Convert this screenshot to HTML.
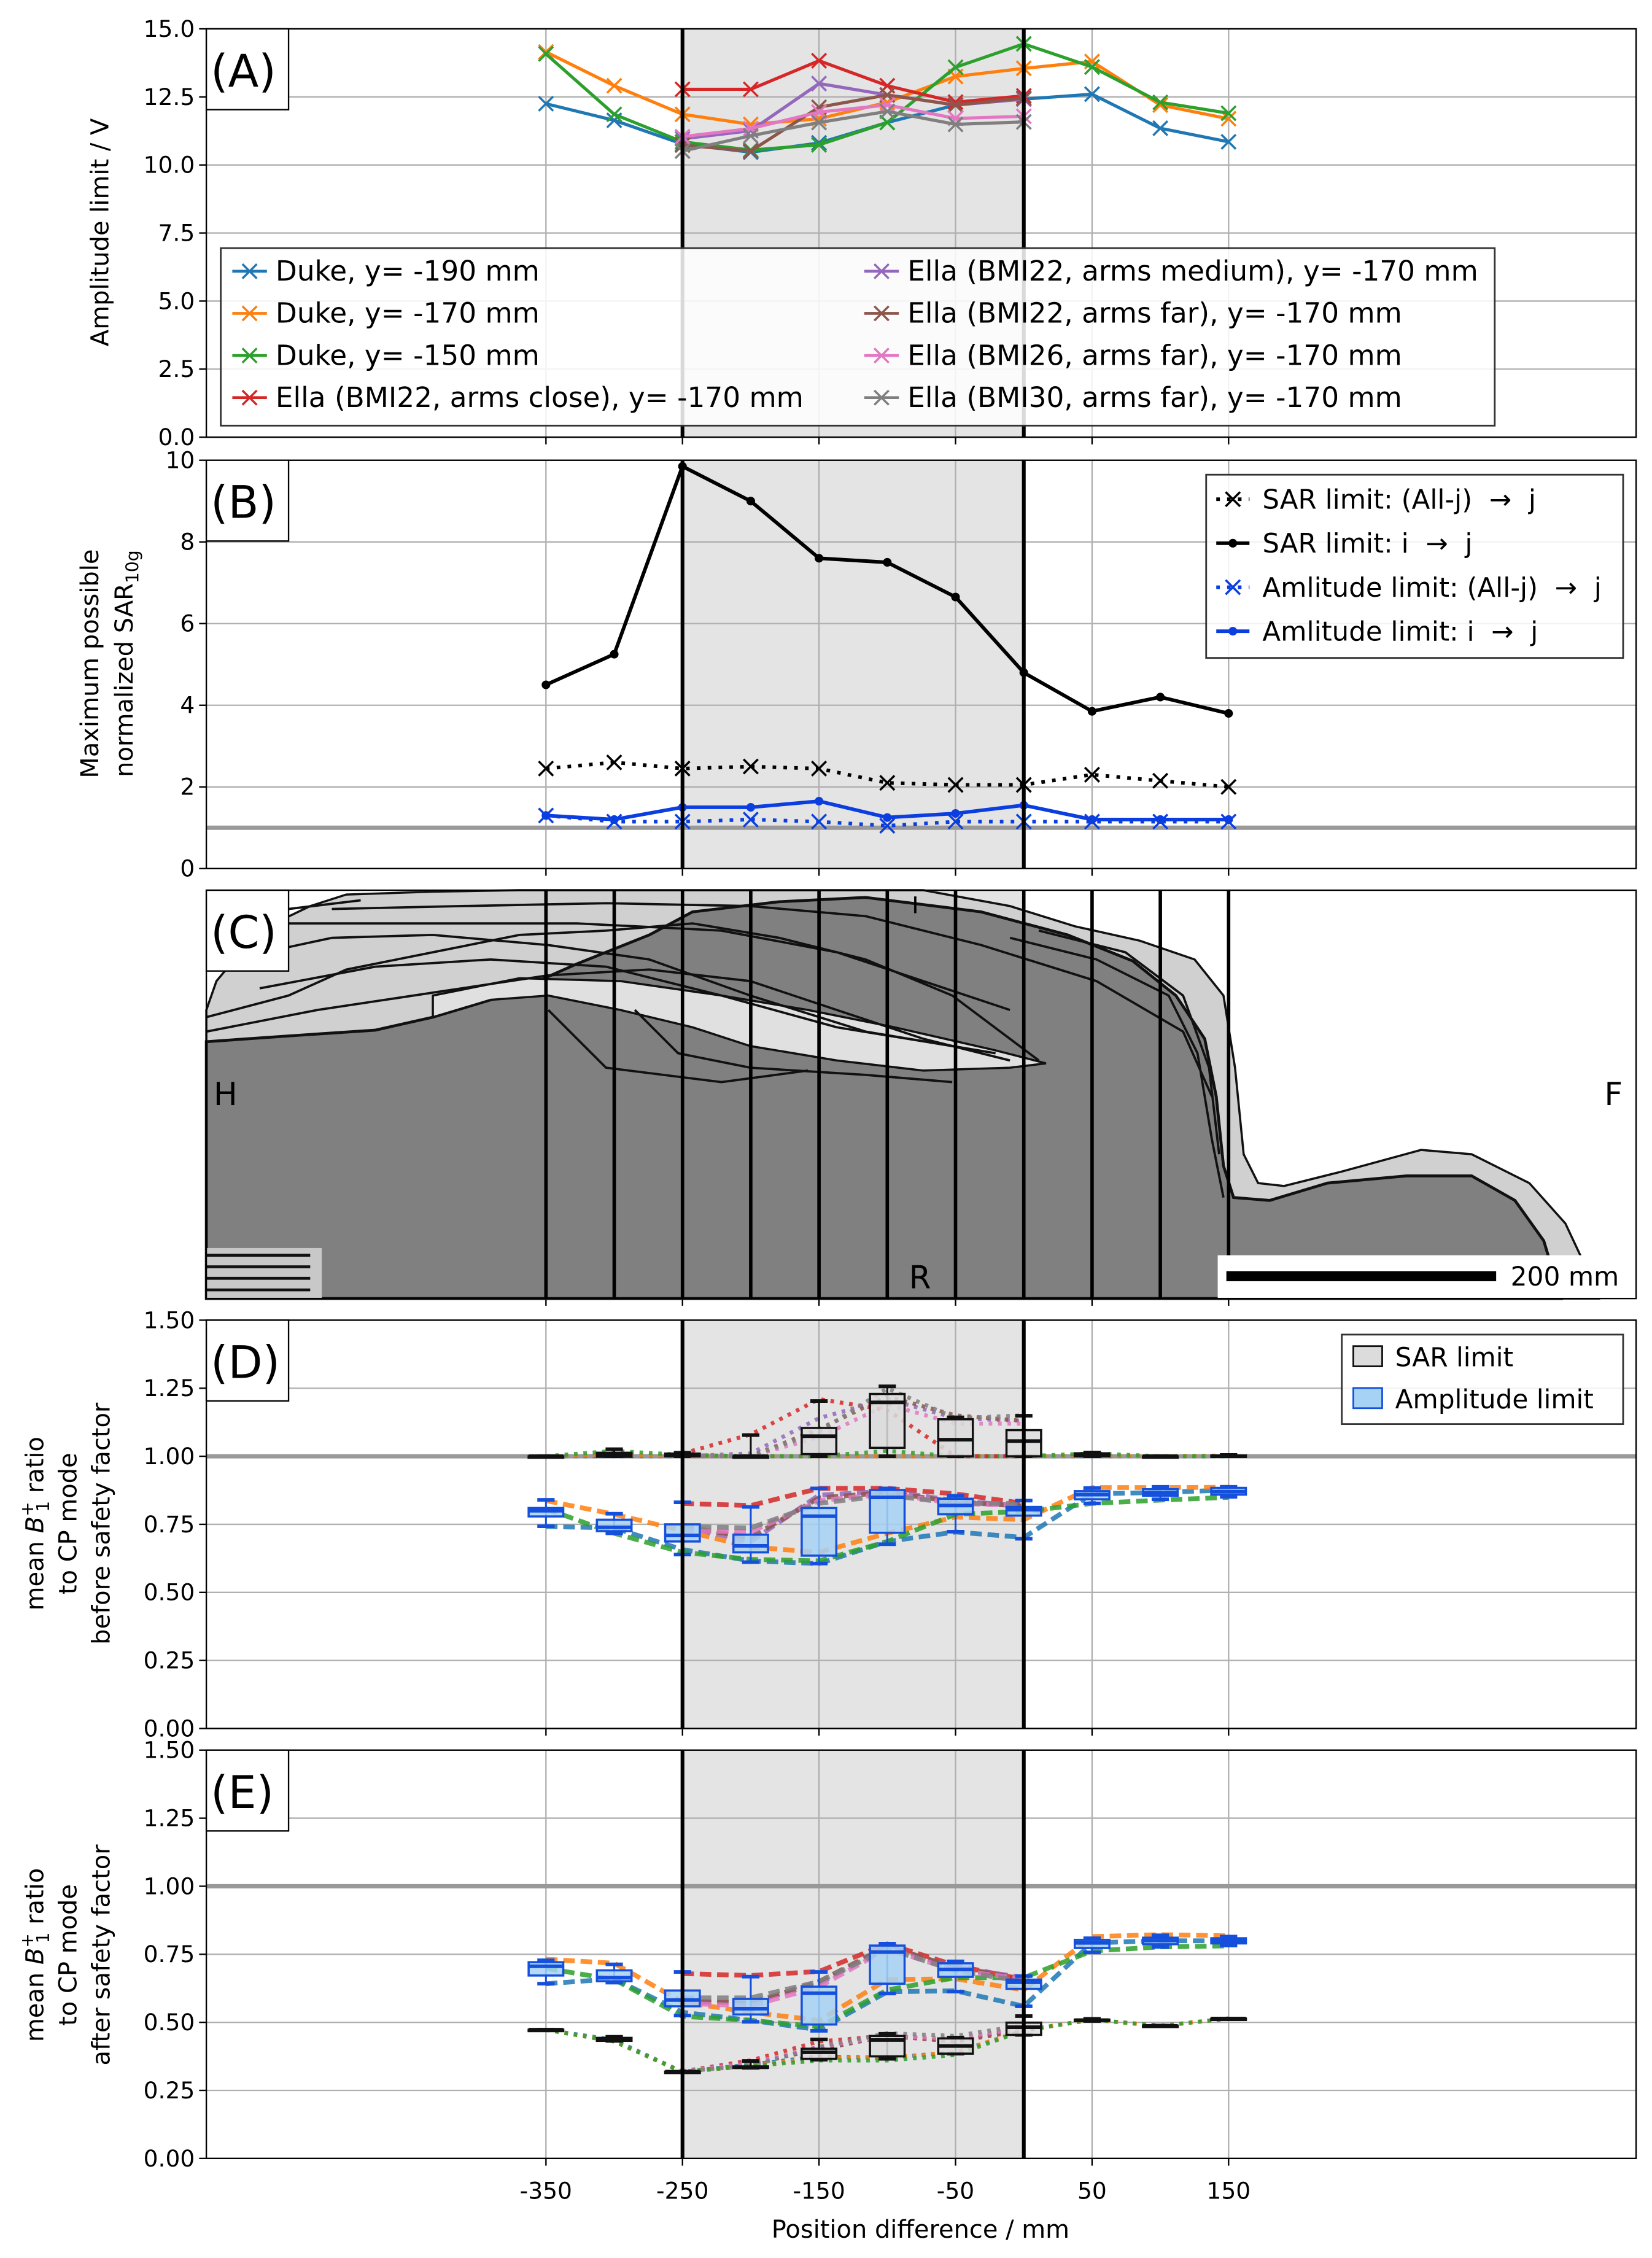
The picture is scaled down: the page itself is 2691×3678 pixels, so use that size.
<!DOCTYPE html>
<html><head><meta charset="utf-8"><style>
html,body{margin:0;padding:0;background:#fff}
svg{display:block}
text{font-family:"DejaVu Sans","Liberation Sans",sans-serif;fill:#000}
</style></head><body>
<svg id="fig" width="2691" height="3678" viewBox="0 0 1145 1565" xmlns="http://www.w3.org/2000/svg"></svg>
<script>
// ---------- data ----------
const positions = [-350,-300,-250,-200,-150,-100,-50,0,50,100,150];
const ellaPositions = [-250,-200,-150,-100,-50,0];
const xTickLabels = [-350,-250,-150,-50,50,150];
const seriesColors = ["#1f77b4","#ff7f0e","#2ca02c","#d62728","#9467bd","#8c564b","#e377c2","#7f7f7f"];
const seriesNames = ["Duke, y= -190 mm","Duke, y= -170 mm","Duke, y= -150 mm","Ella (BMI22, arms close), y= -170 mm","Ella (BMI22, arms medium), y= -170 mm","Ella (BMI22, arms far), y= -170 mm","Ella (BMI26, arms far), y= -170 mm","Ella (BMI30, arms far), y= -170 mm"];
// Panel A: amplitude limit (V)
const ampDuke190 = [12.25,11.64,10.77,10.47,10.81,11.56,12.2,12.42,12.6,11.35,10.85];
const ampDuke170 = [14.15,12.91,11.86,11.49,11.7,12.3,13.25,13.55,13.8,12.2,11.7];
const ampDuke150 = [14.08,11.86,10.85,10.55,10.74,11.56,13.59,14.45,13.6,12.3,11.9];
const ampEllaClose = [12.78,12.78,13.83,12.91,12.31,12.54];
const ampEllaMed = [10.96,11.26,12.99,12.57,12.2,12.42];
const ampEllaFar22 = [10.73,10.51,12.12,12.57,12.2,12.46];
const ampEllaFar26 = [11.04,11.34,11.94,12.2,11.71,11.79];
const ampEllaFar30 = [10.51,11.07,11.56,11.97,11.49,11.58];
// Panel B
const sarAllJ = [2.45,2.6,2.45,2.5,2.45,2.1,2.05,2.05,2.3,2.15,2.0];
const sarIJ = [4.5,5.25,9.85,9.0,7.6,7.5,6.65,4.8,3.85,4.2,3.8];
const ampAllJ = [1.3,1.15,1.15,1.2,1.15,1.05,1.15,1.15,1.15,1.15,1.15];
const ampIJ = [1.3,1.2,1.5,1.5,1.65,1.25,1.35,1.55,1.2,1.2,1.2];
// Panel D (before safety factor)
const dAmpLo=[.743,.717,.639,.611,.606,.677,.723,.697,.827,.842,.851];
const dAmpQ1=[.779,.725,.687,.647,.635,.719,.787,.782,.842,.855,.859];
const dAmpMed=[.80,.739,.709,.671,.78,.849,.819,.804,.859,.865,.87];
const dAmpQ3=[.81,.767,.75,.712,.81,.876,.844,.814,.872,.879,.884];
const dAmpHi=[.84,.789,.831,.814,.882,.882,.855,.837,.883,.888,.888];
const dSarLo=[1,1,1,1,1,1,1,1,1,1,1];
const dSarQ1=[1,.998,1,1,1.008,1.031,1,1,1,1,1];
const dSarMed=[1,1.005,1.003,1,1.074,1.198,1.061,1.056,1.005,1,1];
const dSarQ3=[1,1.013,1.01,1,1.104,1.229,1.136,1.096,1.011,1,1.003];
const dSarHi=[1,1.026,1.013,1.078,1.203,1.257,1.143,1.149,1.014,1,1.005];
const dAmpDuke190=[.742,.737,.657,.616,.606,.687,.722,.702,.862,.867,.876];
const dAmpDuke170=[.837,.787,.727,.667,.647,.717,.777,.767,.885,.885,.886];
const dAmpDuke150=[.807,.717,.647,.621,.616,.687,.787,.797,.827,.839,.849];
const dAmpEllaClose=[.827,.819,.882,.882,.862,.827];
const dAmpEllaMed=[.742,.687,.857,.872,.837,.817];
const dAmpEllaFar22=[.742,.702,.847,.867,.832,.817];
const dAmpEllaFar26=[.727,.722,.837,.862,.827,.819];
const dAmpEllaFar30=[.742,.737,.827,.857,.827,.827];
const dSarDuke190=[1,1.0,1.0,1,1,1,1,1,1,1,1];
const dSarDuke170=[1,1.005,1.0,1,1,1,1,1,1.002,1,1.003];
const dSarDuke150=[1,1.02,1.005,1,1,1.02,1,1,1.01,1,1];
const dSarEllaClose=[1.01,1.08,1.21,1.17,1.0,1.0];
const dSarEllaMed=[1.0,1.01,1.14,1.21,1.14,1.13];
const dSarEllaFar22=[1.0,1.0,1.10,1.22,1.15,1.13];
const dSarEllaFar26=[1.0,1.0,1.07,1.19,1.12,1.12];
const dSarEllaFar30=[1.0,1.0,1.09,1.25,1.14,1.15];
// Panel E (after safety factor)
const eAmpLo=[.642,.646,.525,.502,.469,.606,.613,.559,.757,.777,.782];
const eAmpQ1=[.672,.651,.559,.529,.492,.642,.667,.623,.773,.787,.79];
const eAmpMed=[.706,.664,.582,.55,.607,.758,.694,.647,.792,.80,.80];
const eAmpQ3=[.721,.691,.617,.586,.631,.782,.717,.657,.803,.811,.809];
const eAmpHi=[.728,.713,.685,.668,.685,.789,.724,.670,.809,.82,.815];
const eSarLo=[.473,.432,.319,.333,.363,.366,.385,.454,.505,.486,.514];
const eSarQ1=[.473,.432,.319,.333,.366,.375,.385,.454,.505,.486,.514];
const eSarMed=[.473,.439,.319,.335,.39,.435,.413,.482,.508,.487,.514];
const eSarQ3=[.473,.443,.319,.338,.403,.45,.441,.499,.51,.488,.514];
const eSarHi=[.473,.447,.319,.358,.437,.458,.444,.523,.513,.488,.514];
const eAmpDuke190=[.642,.66,.537,.507,.473,.612,.616,.559,.792,.80,.80];
const eAmpDuke170=[.732,.717,.574,.537,.507,.657,.66,.619,.815,.822,.818];
const eAmpDuke150=[.698,.657,.522,.507,.484,.619,.664,.664,.762,.777,.781];
const eAmpEllaClose=[.679,.672,.687,.788,.709,.657];
const eAmpEllaMed=[.574,.574,.642,.777,.702,.664];
const eAmpEllaFar22=[.58,.57,.65,.78,.70,.66];
const eAmpEllaFar26=[.57,.56,.63,.77,.69,.66];
const eAmpEllaFar30=[.59,.59,.65,.77,.69,.65];
const eSarDuke190=[.473,.435,.318,.345,.375,.37,.39,.47,.51,.487,.514];
const eSarDuke170=[.473,.43,.318,.34,.37,.37,.39,.47,.51,.487,.514];
const eSarDuke150=[.473,.43,.318,.34,.36,.36,.38,.47,.51,.487,.514];
const eSarEllaClose=[.32,.36,.43,.45,.43,.47];
const eSarEllaMed=[.32,.35,.40,.45,.43,.48];
const eSarEllaFar22=[.32,.35,.40,.45,.43,.48];
const eSarEllaFar26=[.32,.35,.41,.45,.44,.48];
const eSarEllaFar30=[.32,.34,.41,.46,.45,.49];
const tickA=[0,2.5,5,7.5,10,12.5,15];
const tickB=[0,2,4,6,8,10];
const tickDE=[0,.25,.5,.75,1,1.25,1.5];

// ---------- helpers ----------
const NS="http://www.w3.org/2000/svg";
const svg=document.getElementById('fig');
const L=143,R=1134;
function xs(v){return 709.6+v*0.9463;}
function mk(tag,attrs,parent,txt){const e=document.createElementNS(NS,tag);for(const k in attrs)e.setAttribute(k,attrs[k]);if(txt!==undefined)e.textContent=txt;(parent||svg).appendChild(e);return e;}
function yScale(top,bot,min,max){return v=>bot-(v-min)/(max-min)*(bot-top);}
function grp(name,parent){const g=mk('g',{},parent);return g;}
function xMarker(g,x,y,c,s){mk('path',{d:`M${x-s},${y-s}L${x+s},${y+s}M${x-s},${y+s}L${x+s},${y-s}`,stroke:c,'stroke-width':1.5,fill:'none'},g);}
function line(g,xv,yv,ys,c,w,dash,op){const d=xv.map((x,i)=>(i?'L':'M')+xs(x).toFixed(1)+','+ys(yv[i]).toFixed(1)).join('');const a={d:d,stroke:c,'stroke-width':w,fill:'none','stroke-linejoin':'round'};if(dash)a['stroke-dasharray']=dash;if(op)a.opacity=op;return mk('path',a,g);}

function frame(name,top,bot,ys,ticks,fmt,shade){
  const g=grp(name);
  if(shade) mk('rect',{x:xs(-250),y:top,width:xs(0)-xs(-250),height:bot-top,fill:'#e4e4e4'},g);
  if(ys){
    ticks.forEach(t=>{const y=ys(t);mk('line',{x1:L,x2:R,y1:y,y2:y,stroke:'#b0b0b0','stroke-width':1},g);
      mk('line',{x1:L-5,x2:L,y1:y,y2:y,stroke:'#000','stroke-width':1},g);
      const tl=mk('text',{x:L-8,y:y+5.5,'text-anchor':'end','font-size':16},g,fmt(t));});
    xTickLabels.forEach(t=>mk('line',{x1:xs(t),x2:xs(t),y1:top,y2:bot,stroke:'#b0b0b0','stroke-width':1},g));
  }
  xTickLabels.forEach(t=>mk('line',{x1:xs(t),x2:xs(t),y1:bot,y2:bot+5,stroke:'#000','stroke-width':1},g));
  return g;
}
function edges(g,top,bot,thick){
  if(thick){[-250,0].forEach(v=>mk('line',{x1:xs(v),x2:xs(v),y1:top,y2:bot,stroke:'#000','stroke-width':2.6},g));}
  mk('rect',{x:L,y:top,width:R-L,height:bot-top,fill:'none',stroke:'#000','stroke-width':1},g);
}
function panelLabel(g,top,lbl){
  mk('rect',{x:L,y:top,width:57,height:56,fill:'#fff',stroke:'#000','stroke-width':1},g);
  const t=mk('text',{x:L+3,y:top+40,'font-size':31},g,lbl);
}

// ---------- Panel A ----------
(function(){
  const top=20,bot=303,ys=yScale(top,bot,0,15);
  const g=frame('panel-a',top,bot,ys,tickA,v=>v.toFixed(1),true);
  const all=[[positions,ampDuke190],[positions,ampDuke170],[positions,ampDuke150],[ellaPositions,ampEllaClose],[ellaPositions,ampEllaMed],[ellaPositions,ampEllaFar22],[ellaPositions,ampEllaFar26],[ellaPositions,ampEllaFar30]];
  all.forEach((s,i)=>{const sg=grp('series-a-'+i,g);line(sg,s[0],s[1],ys,seriesColors[i],2.2);s[0].forEach((x,j)=>xMarker(sg,xs(x),ys(s[1][j]),seriesColors[i],5));});
  edges(g,top,bot,true);
  panelLabel(g,top,'(A)');
  const lg=grp('legend-a',g);
  mk('rect',{x:153,y:172,width:883,height:123,fill:'#fff','fill-opacity':0.85,stroke:'#333','stroke-width':1.2},lg);
  seriesNames.forEach((n,i)=>{const col=i<4?0:1,row=i%4;const x0=col?599:161,y=188+row*29.2;
    const e=grp('legend-entry',lg);
    mk('line',{x1:x0,x2:x0+24,y1:y,y2:y,stroke:seriesColors[i],'stroke-width':2},e);xMarker(e,x0+12,y,seriesColors[i],5);
    mk('text',{x:x0+30,y:y+6.5,'font-size':19.3},e,n);});
  const yl=mk('text',{x:0,y:0,'font-size':17,'text-anchor':'middle',transform:'translate(75,161) rotate(-90)'},g,'Amplitude limit / V');
  
})();

// ---------- Panel B ----------
(function(){
  const top=319,bot=602,ys=yScale(top,bot,0,10);
  const g=frame('panel-b',top,bot,ys,tickB,v=>String(v),true);
  mk('line',{x1:L,x2:R,y1:ys(1),y2:ys(1),stroke:'#999','stroke-width':3},g);
  const s1=grp('series-sar-all-j',g);line(s1,positions,sarAllJ,ys,'#000',2.5,'2.5,5');positions.forEach((x,j)=>xMarker(s1,xs(x),ys(sarAllJ[j]),'#000',5));
  const s2=grp('series-sar-i-j',g);line(s2,positions,sarIJ,ys,'#000',2.5);positions.forEach((x,j)=>mk('circle',{cx:xs(x),cy:ys(sarIJ[j]),r:3,fill:'#000'},s2));
  const s3=grp('series-amp-all-j',g);line(s3,positions,ampAllJ,ys,'#0a3ee0',2.5,'2.5,5');positions.forEach((x,j)=>xMarker(s3,xs(x),ys(ampAllJ[j]),'#0a3ee0',5));
  const s4=grp('series-amp-i-j',g);line(s4,positions,ampIJ,ys,'#0a3ee0',2.5);positions.forEach((x,j)=>mk('circle',{cx:xs(x),cy:ys(ampIJ[j]),r:3,fill:'#0a3ee0'},s4));
  edges(g,top,bot,true);
  panelLabel(g,top,'(B)');
  const lg=grp('legend-b',g);
  mk('rect',{x:836,y:329,width:289,height:127,fill:'#fff','fill-opacity':0.85,stroke:'#333','stroke-width':1.2},lg);
  const items=[['SAR limit: (All-j) \u00a0\u2192\u00a0 j','#000',1,'x'],['SAR limit: i \u00a0\u2192\u00a0 j','#000',0,'o'],['Amlitude limit: (All-j) \u00a0\u2192\u00a0 j','#0a3ee0',1,'x'],['Amlitude limit: i \u00a0\u2192\u00a0 j','#0a3ee0',0,'o']];
  items.forEach((it,i)=>{const y=346+i*30.5;const e=grp('legend-entry',lg);
    const a={x1:843,x2:866,y1:y,y2:y,stroke:it[1],'stroke-width':2.5};if(it[2])a['stroke-dasharray']='2.5,5';mk('line',a,e);
    if(it[3]=='x')xMarker(e,854.5,y,it[1],5);else mk('circle',{cx:854.5,cy:y,r:3,fill:it[1]},e);
    mk('text',{x:875,y:y+6.5,'font-size':18.5},e,it[0]);});
  const t1=mk('text',{x:0,y:0,'font-size':17,'text-anchor':'middle',transform:'translate(68,460) rotate(-90)'},g,'Maximum possible');
  
  const t2=mk('text',{x:0,y:0,'font-size':17,'text-anchor':'middle',transform:'translate(92,460) rotate(-90)'},g);
  mk('tspan',{},t2,'normalized SAR');mk('tspan',{'font-size':12,dy:4},t2,'10g');
})();

// ---------- Panel C (anatomy) ----------
(function(){
  const top=617,bot=900;
  const g=frame('panel-c',top,bot,null,[],null,false);
  mk('rect',{x:xs(-250),y:top,width:xs(0)-xs(-250),height:bot-top,fill:'#e4e4e4'},g);
  const body=grp('body-model',g);
  // outer skin (light)
  mk('path',{d:'M143,700 L150,680 L165,662 L190,640 L215,628 L240,620 L300,618 L360,617 L640,617 L700,628 L745,642 L790,652 L828,665 L848,690 L856,740 L862,800 L872,820 L890,822 L930,812 L985,797 L1020,800 L1060,820 L1085,848 L1100,880 L1108,900 L143,900 Z',fill:'#d0d0d0',stroke:'#111','stroke-width':1.5},body);
  // dark body
  mk('path',{d:'M143,722 L200,718 L260,714 L300,705 L350,690 L400,668 L450,648 L480,632 L540,625 L600,622 L680,632 L740,648 L785,666 L815,690 L835,720 L843,760 L848,808 L855,830 L880,832 L920,820 L975,815 L1020,815 L1050,832 L1070,860 L1082,900 L143,900 Z',fill:'#808080',stroke:'#111','stroke-width':2},body);
  // light arm region
  mk('path',{d:'M300,705 L340,693 L380,690 L430,700 L480,712 L520,725 L580,735 L640,742 L700,740 L725,737 L690,728 L620,712 L560,700 L500,690 L430,680 L360,678 L300,690 Z',fill:'#e0e0e0',stroke:'#111','stroke-width':1.5},body);
  const contours=[
   'M143,705 L200,690 L240,672 L300,660 L360,648 L420,645 L480,640 L540,650 L600,665 L660,690 L720,735',
   'M143,715 L220,700 L300,688 L380,676 L450,672 L520,680 L580,700 L640,720 L700,735',
   'M230,630 L320,628 L420,626 L520,628 L600,635 L680,655 L760,680 L820,715 L840,760',
   'M200,640 L300,640 L400,640 L500,645 L580,660 L640,680 L700,700',
   'M160,665 L230,650 L300,648 L380,655 L450,665 L520,690 L600,715 L690,730',
   'M180,685 L260,670 L340,665 L420,670 L500,690 L580,712 L660,725',
   'M700,650 L760,665 L810,690 L830,730 L840,790 L848,830',
   'M720,645 L780,660 L820,690 L838,740 L845,800',
   'M143,640 L200,630 L250,624',
   'M380,700 L420,740 L500,750 L560,742',
   'M440,700 L470,730 L520,740 L600,745 L660,750'];
  contours.forEach(d=>mk('path',{d:d,fill:'none',stroke:'#111','stroke-width':1.6},body));
  mk('rect',{x:143,y:865,width:80,height:35,fill:'#c8c8c8'},body);
  [870,878,886,894].forEach(y=>mk('line',{x1:143,x2:215,y1:y,y2:y,stroke:'#111','stroke-width':2},body));
  positions.forEach(p=>mk('line',{x1:xs(p),x2:xs(p),y1:top,y2:bot,stroke:'#000','stroke-width':2.4},g));
  const lbls=[['H',148,766,22],['F',1112,766,22],['R',630,893,22],['I',632,633,16]];
  lbls.forEach(l=>{const t=mk('text',{x:l[1],y:l[2],'font-size':l[3]},g,l[0]);});
  const sb=grp('scale-bar',g);
  mk('rect',{x:844,y:870,width:290,height:30,fill:'#fff'},sb);
  mk('rect',{x:850,y:881,width:187,height:7,fill:'#000'},sb);
  mk('text',{x:1047,y:891,'font-size':18},sb,'200 mm');
  edges(g,top,bot,false);
  panelLabel(g,top,'(C)');
})();

// ---------- Panels D & E ----------
function boxPanel(name,top,lbl,ampStats,sarStats,ampLines,sarLines,titleLines,cy,legend){
  const bot=top+283,ys=yScale(top,bot,0,1.5);
  const g=frame(name,top,bot,ys,tickDE,v=>v.toFixed(2),true);
  mk('line',{x1:L,x2:R,y1:ys(1),y2:ys(1),stroke:'#999','stroke-width':3},g);
  sarLines.forEach((s,i)=>{const lg=grp('sar-line-'+i,g);line(lg,i<3?positions:ellaPositions,s,ys,seriesColors[i],2.8,'2.5,4',0.85);});
  ampLines.forEach((s,i)=>{const lg=grp('amp-line-'+i,g);line(lg,i<3?positions:ellaPositions,s,ys,seriesColors[i],3.3,'8,4',0.85);});
  function boxes(st,face,edge,nm){
    positions.forEach((p,j)=>{const b=grp(nm,g);const x=xs(p),w=24;
      mk('line',{x1:x,x2:x,y1:ys(st[4][j]),y2:ys(st[0][j]),stroke:edge,'stroke-width':1.3},b);
      [0,4].forEach(k=>mk('line',{x1:x-6,x2:x+6,y1:ys(st[k][j]),y2:ys(st[k][j]),stroke:edge,'stroke-width':2.5},b));
      mk('rect',{x:x-w/2,y:ys(st[3][j]),width:w,height:Math.max(1,ys(st[1][j])-ys(st[3][j])),fill:face,'fill-opacity':0.85,stroke:edge,'stroke-width':1.5},b);
      mk('line',{x1:x-w/2,x2:x+w/2,y1:ys(st[2][j]),y2:ys(st[2][j]),stroke:edge,'stroke-width':2.5},b);});
  }
  boxes(sarStats,'#dcdcdc','#111','sar-box');
  boxes(ampStats,'#a6d2f5','#1550dd','amp-box');
  edges(g,top,bot,true);
  panelLabel(g,top,lbl);
  if(legend){const lg=grp('legend-d',g);
    mk('rect',{x:930,y:925,width:195,height:62,fill:'#fff','fill-opacity':0.85,stroke:'#333','stroke-width':1.2},lg);
    const e1=grp('legend-entry',lg);mk('rect',{x:938,y:933,width:20,height:14,fill:'#dcdcdc',stroke:'#111','stroke-width':1.2},e1);mk('text',{x:967,y:947,'font-size':18},e1,'SAR limit');
    const e2=grp('legend-entry',lg);mk('rect',{x:938,y:962,width:20,height:14,fill:'#a6d2f5',stroke:'#1550dd','stroke-width':1.2},e2);mk('text',{x:967,y:976,'font-size':18},e2,'Amplitude limit');}
  const xsT=[30,53,76];
  titleLines.forEach((tl,i)=>{const t=mk('text',{x:0,y:0,'font-size':17,'text-anchor':'middle',transform:`translate(${xsT[i]},${cy}) rotate(-90)`},g);
    
    if(i==0){mk('tspan',{},t,'mean ');mk('tspan',{'font-style':'italic'},t,'B');mk('tspan',{'font-size':12,dy:-7},t,'+');mk('tspan',{'font-size':12,dy:11,dx:-7},t,'1');mk('tspan',{dy:-4},t,' ratio');}
    else t.textContent=tl;});
}
boxPanel('panel-d',915,'(D)',[dAmpLo,dAmpQ1,dAmpMed,dAmpQ3,dAmpHi],[dSarLo,dSarQ1,dSarMed,dSarQ3,dSarHi],
  [dAmpDuke190,dAmpDuke170,dAmpDuke150,dAmpEllaClose,dAmpEllaMed,dAmpEllaFar22,dAmpEllaFar26,dAmpEllaFar30],
  [dSarDuke190,dSarDuke170,dSarDuke150,dSarEllaClose,dSarEllaMed,dSarEllaFar22,dSarEllaFar26,dSarEllaFar30],
  ['x','to CP mode','before safety factor'],1056,true);
boxPanel('panel-e',1213,'(E)',[eAmpLo,eAmpQ1,eAmpMed,eAmpQ3,eAmpHi],[eSarLo,eSarQ1,eSarMed,eSarQ3,eSarHi],
  [eAmpDuke190,eAmpDuke170,eAmpDuke150,eAmpEllaClose,eAmpEllaMed,eAmpEllaFar22,eAmpEllaFar26,eAmpEllaFar30],
  [eSarDuke190,eSarDuke170,eSarDuke150,eSarEllaClose,eSarEllaMed,eSarEllaFar22,eSarEllaFar26,eSarEllaFar30],
  ['x','to CP mode','after safety factor'],1355,false);

// x tick labels & title
const xg=grp('x-axis');
xTickLabels.forEach(t=>{const e=mk('text',{x:xs(t),y:1524,'font-size':16,'text-anchor':'middle'},xg,String(t));
  
  });
const xt=mk('text',{x:638,y:1551,'font-size':17,'text-anchor':'middle'},xg,'Position difference / mm');


</script>
</body></html>
